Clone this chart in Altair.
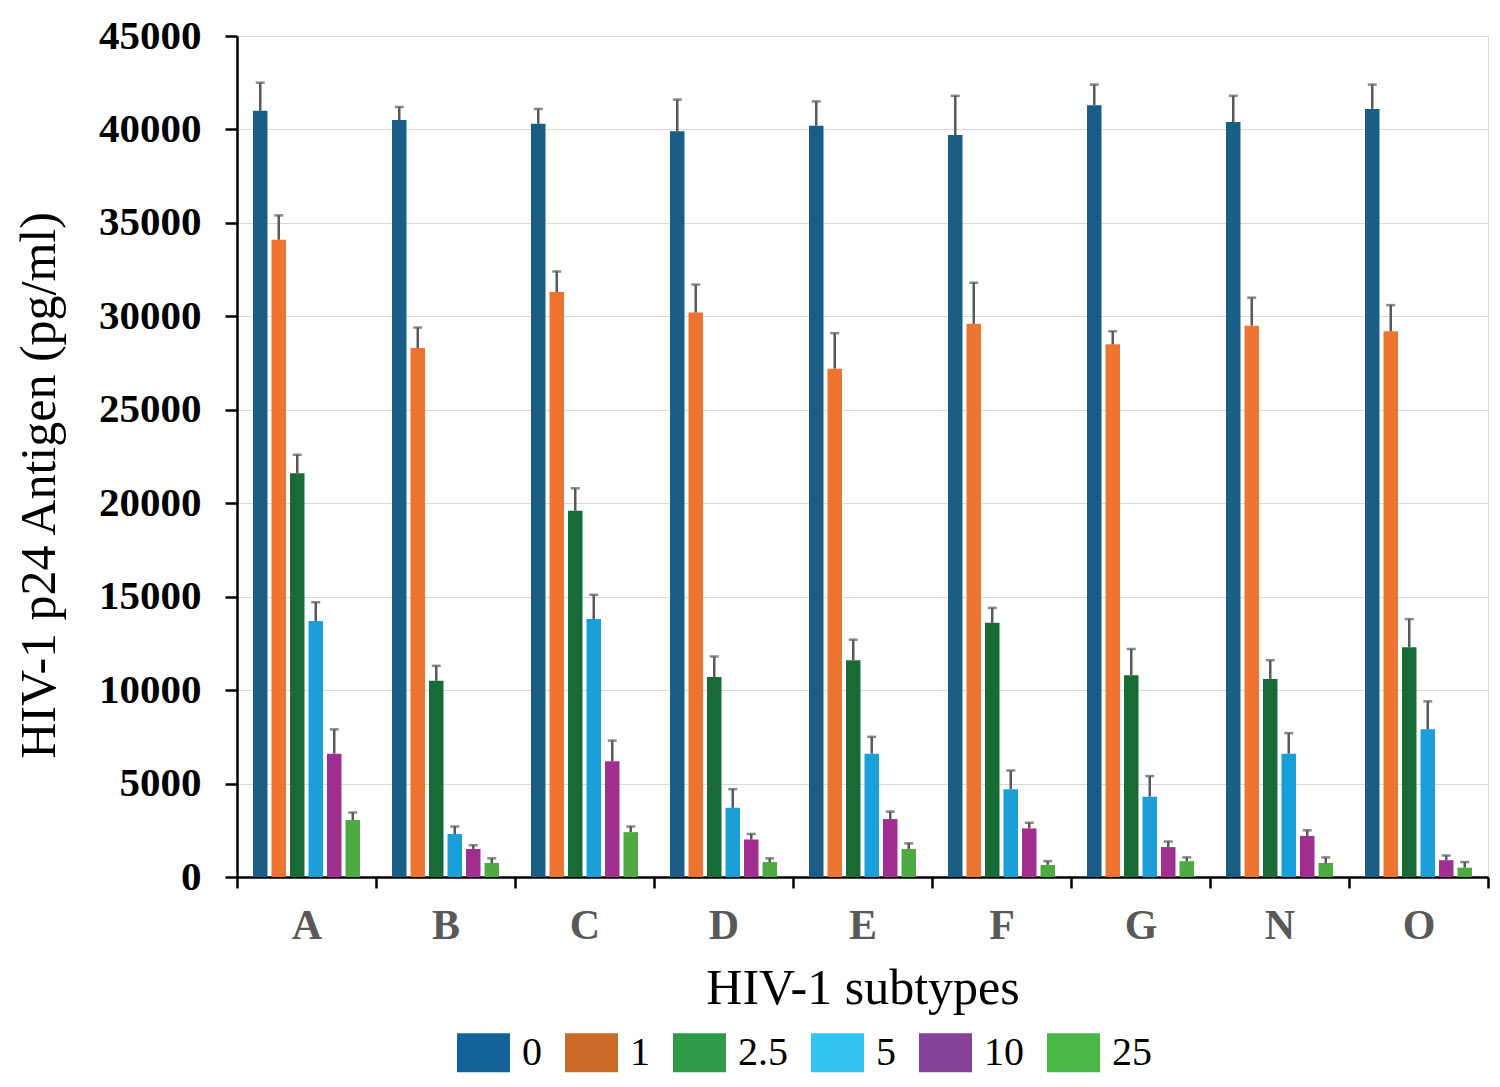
import altair as alt
import pandas as pd

subtypes = ["A", "B", "C", "D", "E", "F", "G", "N", "O"]
concentrations = ["0", "1", "2.5", "5", "10", "25"]

mean_0 = [41000, 40500, 40300, 39900, 40200, 39700, 41300, 40400, 41100]
mean_1 = [34100, 28300, 31300, 30200, 27200, 29600, 28500, 29500, 29200]
mean_2_5 = [21600, 10500, 19600, 10700, 11600, 13600, 10800, 10600, 12300]
mean_5 = [13700, 2300, 13800, 3700, 6600, 4700, 4300, 6600, 7900]
mean_10 = [6600, 1500, 6200, 2000, 3100, 2600, 1600, 2200, 900]
mean_25 = [3050, 750, 2400, 800, 1500, 650, 850, 750, 500]

err_0 = [1500, 700, 800, 1700, 1300, 2100, 1100, 1400, 1300]
err_1 = [1300, 1100, 1100, 1500, 1900, 2200, 700, 1500, 1400]
err_2_5 = [1000, 800, 1200, 1100, 1100, 800, 1400, 1000, 1500]
err_5 = [1000, 400, 1300, 1000, 900, 1000, 1100, 1100, 1500]
err_10 = [1300, 200, 1100, 300, 400, 300, 300, 300, 250]
err_25 = [400, 250, 300, 200, 300, 200, 200, 300, 300]

bar_colors = ["#1a5e85", "#ee7432", "#186b36", "#1a9fd8", "#a02f90", "#50aa44"]
legend_colors = ["#13629a", "#cc6a2a", "#2f9a48", "#33c4f2", "#844398", "#4ab847"]

means = [mean_0, mean_1, mean_2_5, mean_5, mean_10, mean_25]
errs = [err_0, err_1, err_2_5, err_5, err_10, err_25]

rows = []
for ci, c in enumerate(concentrations):
    for si, s in enumerate(subtypes):
        rows.append({
            "subtype": s,
            "conc": c,
            "legend_conc": c,
            "value": means[ci][si],
            "top": means[ci][si] + errs[ci][si],
        })
df = pd.DataFrame(rows)

FONT = "Liberation Serif"

x_enc = alt.X(
    "subtype:N",
    sort=subtypes,
    scale=alt.Scale(paddingInner=0, paddingOuter=0),
    title="HIV-1 subtypes",
    axis=alt.Axis(
        labelAngle=0,
        labelFont=FONT,
        labelFontSize=42,
        labelFontWeight="bold",
        labelColor="#595959",
        labelPadding=17,
        tickBand="extent",
        tickSize=11,
        tickWidth=2.5,
        tickColor="black",
        domainColor="black",
        domainWidth=2.5,
        titleFont=FONT,
        titleFontSize=50,
        titleFontWeight="normal",
        titleColor="black",
        titlePadding=17,
        grid=False,
    ),
)
xoff = alt.XOffset("conc:N", sort=concentrations,
                   scale=alt.Scale(paddingInner=0.216, paddingOuter=0.865))

y_enc = alt.Y(
    "value:Q",
    scale=alt.Scale(domain=[0, 45000], nice=False),
    title="HIV-1 p24 Antigen (pg/ml)",
    axis=alt.Axis(
        values=list(range(0, 45001, 5000)),
        format="d",
        labelFont=FONT,
        labelFontSize=41,
        labelFontWeight="bold",
        labelColor="black",
        labelPadding=24,
        tickSize=12,
        tickWidth=2.5,
        tickColor="black",
        domainColor="black",
        domainWidth=2.5,
        gridColor="#d9d9d9",
        gridWidth=1,
        titleFont=FONT,
        titleFontSize=50,
        titleFontWeight="normal",
        titleColor="black",
        titlePadding=34,
        titleY=449,
    ),
)

bars = alt.Chart(df).mark_bar().encode(
    x=x_enc,
    xOffset=xoff,
    y=y_enc,
    color=alt.Color("conc:N", sort=concentrations,
                    scale=alt.Scale(domain=concentrations, range=bar_colors),
                    legend=None),
)

legend_layer = alt.Chart(df).transform_filter("datum.value < 0").mark_bar().encode(
    x=alt.X("subtype:N", sort=subtypes),
    xOffset=alt.XOffset("conc:N", sort=concentrations),
    y="value:Q",
    color=alt.Color(
        "legend_conc:N",
        sort=concentrations,
        scale=alt.Scale(domain=concentrations, range=legend_colors),
        legend=alt.Legend(
            title=None,
            orient="none",
            direction="horizontal",
            legendX=220,
            legendY=990,
            symbolType="M-1,-0.736L1,-0.736L1,0.736L-1,0.736Z",
            symbolSize=2809,
            symbolStrokeWidth=0,
            symbolOpacity=1,
            labelFont=FONT,
            labelFontSize=40,
            labelColor="black",
            labelOffset=12,
            columnPadding=23,
            padding=0,
            columns=6,
        ),
    ),
)

err_rule = alt.Chart(df).mark_rule(color="#595959", strokeWidth=2.5).encode(
    x=alt.X("subtype:N", sort=subtypes),
    xOffset=alt.XOffset("conc:N", sort=concentrations),
    y="value:Q",
    y2="top:Q",
)

err_cap = alt.Chart(df).mark_tick(color="#595959", thickness=2.5, size=9).encode(
    x=alt.X("subtype:N", sort=subtypes),
    xOffset=alt.XOffset("conc:N", sort=concentrations),
    y="top:Q",
)

chart = alt.layer(bars, legend_layer, err_rule, err_cap).resolve_scale(
    color="independent"
).properties(
    width=1251,
    height=841,
    autosize=alt.AutoSizeParams(type="none"),
    padding={"left": 229, "top": 28, "right": 4, "bottom": 202},
).configure_view(stroke=None).configure(background="white")

chart.save("out.html", embed_options={"renderer": "svg", "actions": False})
